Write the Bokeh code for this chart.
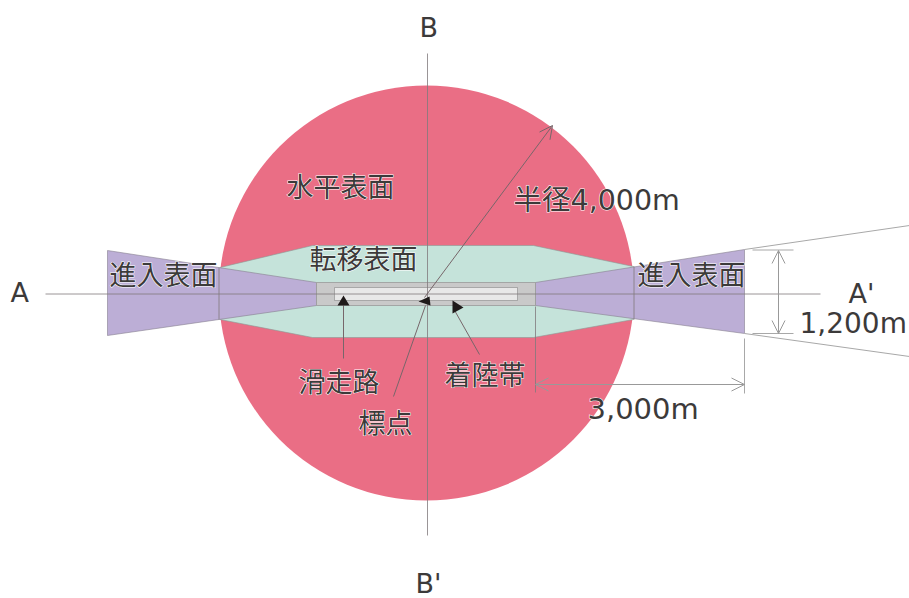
from bokeh.plotting import figure
from bokeh.models import Range1d, Arrow, OpenHead, ColumnDataSource
from bokeh.core.properties import value
from bokeh.embed import file_html
from bokeh.resources import INLINE

# Diagram coordinates (one unit = one picture pixel, y grows downwards)
circle_center = (426, 292.5)
circle_radius = 207.5

transition_x = [219.5, 312, 533, 633, 633, 533, 312, 219.5]
transition_y = [267, 245, 245, 266, 319, 337, 337, 319]

approach_left_x = [107, 316, 316, 107]
approach_left_y = [250, 282, 305, 335]
approach_right_x = [744, 535, 535, 744]
approach_right_y = [249, 282, 305, 333]

strip_x = [316, 535, 535, 316]
strip_y = [282, 282, 305, 305]
runway_x = [334, 517, 517, 334]
runway_y = [287, 287, 300, 300]

pointers_x = [[337, 343, 349], [418, 429, 430], [452, 463, 452]]
pointers_y = [[305, 295, 305], [301, 296, 305], [300, 307, 313]]

dark_lines_x = [[427, 427], [45, 820], [218.5, 218.5], [633.5, 633.5], [535, 535]]
dark_lines_y = [[53, 535], [293.5, 293.5], [267, 319], [266, 319], [306, 392]]
leader_x = [[343, 343], [425, 393], [453, 479]]
leader_y = [[305, 358], [305, 396], [308, 354]]
light_x = [[744, 909], [744, 909], [752, 793], [752, 793], [744, 744]]
light_y = [[249, 225], [333, 356], [249.5, 249.5], [333, 333], [338, 393]]

arrows_one = [(424, 297, 552, 125)]
arrows_two = [(535, 384, 744, 384), (778, 250, 778, 333)]

big_labels = ["水平表面", "転移表面", "進入表面", "進入表面", "半径4,000m", "滑走路", "着陸帯", "標点", "3,000m", "1,200m", "A", "A'", "B", "B'"]
label_x = [286, 309, 109, 637, 513, 298, 444, 358, 587, 799, 10, 848, 419, 415]
label_y = [187, 259, 275, 275, 200, 382, 375, 423, 408, 323, 292, 293, 27, 583]
label_size = ["27px", "27px", "27px", "27px", "28.5px", "27px", "27px", "27px", "29px", "28px", "27px", "27px", "27px", "27px"]

FONT = "DejaVu Sans, Noto Sans CJK JP"
INK = "#3c3a3a"

p = figure(width=909, height=598, output_backend="svg", toolbar_location=None,
           x_range=Range1d(0, 909), y_range=Range1d(598, 0), min_border=0,
           outline_line_color=None, background_fill_color="white", border_fill_color="white")
p.axis.visible = False
p.grid.visible = False

p.circle(x=[circle_center[0]], y=[circle_center[1]], radius=circle_radius,
         fill_color="#ea6e85", line_color=None)
p.patch(transition_x, transition_y, fill_color="#c5e3da", line_color="#8a9a96", line_width=0.6)
p.patches([approach_left_x, approach_right_x], [approach_left_y, approach_right_y],
          fill_color="#bcaed6", line_color="#86808f", line_width=0.6)
p.patch(strip_x, strip_y, fill_color="#c9c9c9", line_color="#999999", line_width=0.8)
p.patch(runway_x, runway_y, fill_color="#e8e8e8", line_color="#888888", line_width=0.6)

p.multi_line(light_x, light_y, line_color="#a8a8a8", line_width=1)
p.multi_line(dark_lines_x, dark_lines_y, line_color="#807a7c", line_width=0.8)
p.multi_line(leader_x, leader_y, line_color="#77666a", line_width=1)
p.patches(pointers_x, pointers_y, fill_color="#1f1a1a", line_color=None)

for x0, y0, x1, y1 in arrows_one:
    p.add_layout(Arrow(end=OpenHead(size=13, line_color="#77666a", line_width=1),
                       x_start=x0, y_start=y0, x_end=x1, y_end=y1,
                       line_color="#77666a", line_width=1))
for x0, y0, x1, y1 in arrows_two:
    p.add_layout(Arrow(start=OpenHead(size=13, line_color="#999999", line_width=1),
                       end=OpenHead(size=13, line_color="#999999", line_width=1),
                       x_start=x0, y_start=y0, x_end=x1, y_end=y1,
                       line_color="#999999", line_width=1))

src = ColumnDataSource(dict(x=label_x, y=label_y, t=big_labels, s=label_size))
p.text("x", "y", text="t", source=src, text_font=value(FONT), text_font_size="s",
       text_color="white", text_outline_color="white", text_baseline="middle", text_align="left")
p.text("x", "y", text="t", source=src, text_font=value(FONT), text_font_size="s",
       text_color=INK, text_baseline="middle", text_align="left")

open("out.html", "w").write(file_html(p, INLINE))
